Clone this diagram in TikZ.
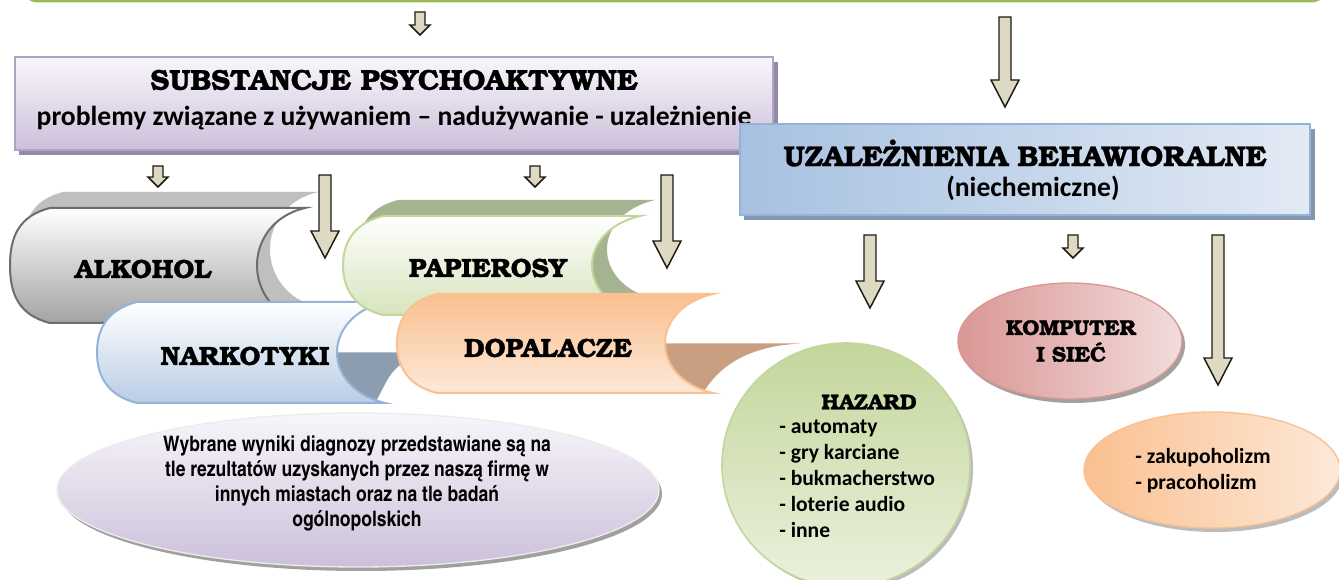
\documentclass[tikz,border=0pt]{standalone}
\usepackage{fontspec}
\setmainfont{Carlito}
\newfontfamily\bookf{texgyrebonum-bold}[Extension=.otf, FakeBold=1]
\newfontfamily\narrowf{texgyreheroscn-bold}[Extension=.otf]
\definecolor{arrowfill}{HTML}{DDD9C3}
\definecolor{arrowline}{HTML}{1D1B10}
\definecolor{topgreen}{HTML}{9BBB59}
\definecolor{topgreenfill}{HTML}{EBF1DE}
\definecolor{purpleTop}{HTML}{F8F6FB}
\definecolor{purpleBot}{HTML}{CCC0DA}
\definecolor{purpleBorder}{HTML}{B3A2C7}
\definecolor{purpleShadow}{HTML}{948AA6}
\definecolor{blueA}{HTML}{A7C1E1}
\definecolor{blueB}{HTML}{E2EAF4}
\definecolor{blueBorder}{HTML}{95B3D7}
\definecolor{blueShadow}{HTML}{8497B0}
\definecolor{alkBot}{HTML}{A3A3A3}
\definecolor{alkLine}{HTML}{6D6D6D}
\definecolor{alkBack}{HTML}{BFBFBF}
\definecolor{papBot}{HTML}{D7E4BD}
\definecolor{papLine}{HTML}{C3D69B}
\definecolor{papBack}{HTML}{A4B491}
\definecolor{narBot}{HTML}{B9CDE5}
\definecolor{narLine}{HTML}{95B3D7}
\definecolor{narBack}{HTML}{8D9DB0}
\definecolor{dopTop}{HTML}{F9C08F}
\definecolor{dopBot}{HTML}{FDE9D9}
\definecolor{dopLine}{HTML}{FAC090}
\definecolor{dopBack}{HTML}{C8A081}
\definecolor{hazA}{HTML}{C3D69B}
\definecolor{hazB}{HTML}{EBF1DE}
\definecolor{komA}{HTML}{D99694}
\definecolor{komB}{HTML}{F2DCDB}
\definecolor{komLine}{HTML}{D99694}
\definecolor{orA}{HTML}{FAC090}
\definecolor{orB}{HTML}{FDE9D9}
\definecolor{ellShadow}{HTML}{A0A0A0}
\newcommand\scrollshape[5]{%
  \path[#1] (#3,#4) -- ({#2+40},#4) .. controls ({#2+8},{#4+8}) and (#2,{#4+30}) .. (#2,{(#4+#5)/2})
    .. controls (#2,{#5-30}) and ({#2+8},{#5-8}) .. ({#2+40},#5) -- (#3,#5)
    .. controls ({#3-64},{#5-15}) and ({#3-64},{#4+15}) .. (#3,#4) -- cycle;}
\newcommand\wedgeshape[5]{%
  \path[#1] ({#2-60},{(#3+#4)/2}) -- ({#2+#5},{(#3+#4)/2})
    .. controls ({#2+#5-55},{(#3+#4)/2+3}) and ({#2+5},{#4-25}) .. ({#2-10},#4) -- ({#2-60},#4) -- cycle;}
\newcommand\blockarrow[6]{%
  \draw[arr] ({#1-#4},#2) -- ({#1+#4},#2) -- ({#1+#4},{#3-#6}) -- ({#1+#5},{#3-#6}) -- (#1,#3)
    -- ({#1-#5},{#3-#6}) -- ({#1-#4},{#3-#6}) -- cycle;}
\begin{document}
\begin{tikzpicture}[x=0.75pt,y=-0.75pt,
  arr/.style={draw=arrowline, fill=arrowfill, line width=1.1pt, line join=miter},
  headtxt/.style={font=\bookf\fontsize{21.5}{24}\selectfont, inner sep=0pt},
  scrolltxt/.style={font=\bookf\fontsize{19.7}{22}\selectfont, inner sep=0pt},
  smallhead/.style={font=\bookf\fontsize{16}{20}\selectfont, inner sep=0pt, align=center},
  subtxt/.style={font=\bfseries\fontsize{20.7}{24}\selectfont, inner sep=0pt},
  listtxt/.style={font=\bfseries\fontsize{16.2}{19.5}\selectfont, inner sep=0pt, align=left},
  narrowtxt/.style={font=\narrowf\fontsize{16}{18.75}\selectfont, inner sep=0pt, align=center}]
\clip (0,0) rectangle (1339,580);
\fill[white] (0,0) rectangle (1339,580);
% top green box (only its bottom edge is visible)
\draw[topgreen, fill=topgreenfill, line width=2.25pt, rounded corners=12pt] (22,-40) rectangle (1327,1);
% purple box
\fill[purpleShadow] (19,62) rectangle (778,155);
\shade[top color=purpleTop, bottom color=purpleBot, draw=purpleBorder, line width=1.2pt] (15,57) rectangle (773,150);
\node[headtxt] (subst) at (394,80) {SUBSTANCJE PSYCHOAKTYWNE};
\node[subtxt] (substsub) at (394,118) {problemy związane z używaniem – nadużywanie - uzależnienie};
% blue box
\fill[blueShadow] (744,129) rectangle (1315,220);
\shade[left color=blueA, right color=blueB, draw=blueBorder, line width=1.2pt] (740,124) rectangle (1310,215);
\node[headtxt] (behaw) at (1025,153) {UZALEŻNIENIA BEHAWIORALNE};
\node[subtxt] (niechem) at (1033,188) {(niechemiczne)};
% scrolls
\scrollshape{fill=alkBack, shift={(13,-16)}}{10}{305}{208}{323}
\scrollshape{top color=white, bottom color=alkBot, draw=alkLine, line width=1.5pt, shade}{10}{305}{208}{323}
\node[scrolltxt] (alk) at (143,269) {ALKOHOL};
\wedgeshape{fill=narBack}{385}{302}{403}{60}
\scrollshape{top color=white, bottom color=narBot, draw=narLine, line width=1.5pt, shade}{97}{385}{302}{403}
\node[scrolltxt] (nar) at (245,356) {NARKOTYKI};
\scrollshape{fill=papBack, shift={(15,-16)}}{343}{640}{216}{315}
\scrollshape{top color=white, bottom color=papBot, draw=papLine, line width=1.5pt, shade}{343}{640}{216}{315}
\node[scrolltxt] (pap) at (488,268) {PAPIEROSY};
\wedgeshape{fill=dopBack}{713}{294}{393}{87}
\scrollshape{top color=dopTop, bottom color=dopBot, draw=dopLine, line width=1.5pt, shade}{397}{713}{294}{393}
\node[scrolltxt] (dop) at (548,348) {DOPALACZE};
% bottom-left ellipse
\fill[ellShadow] (361,494) ellipse [x radius=225.75pt, y radius=57.75pt];
\shade[top color=purpleTop, bottom color=purpleBot, draw=white!85!gray, line width=1pt] (358,490) ellipse [x radius=225.75pt, y radius=57.75pt];
\node[narrowtxt] (diag) at (357,483) {Wybrane wyniki diagnozy przedstawiane są na\\tle rezultatów uzyskanych przez naszą firmę w\\innych miastach oraz na tle badań\\ogólnopolskich};
% hazard circle
\fill[ellShadow!70] (849,468) ellipse [x radius=93pt, y radius=91.5pt];
\shade[top color=hazA, bottom color=hazB, draw=hazA, line width=1.2pt] (846,465) ellipse [x radius=93pt, y radius=91.5pt];
\node[smallhead] (hazard) at (869,402) {HAZARD};
\node[listtxt, anchor=west] (hazlist) at (779,479) {- automaty\\- gry karciane\\- bukmacherstwo\\- loterie audio\\- inne};
% komputer ellipse
\fill[ellShadow] (1073,345) ellipse [x radius=84pt, y radius=43.5pt];
\shade[left color=komA, right color=komB, draw=komLine, line width=1pt] (1070,341) ellipse [x radius=84pt, y radius=43.5pt];
\node[smallhead] (komp) at (1071,341) {KOMPUTER\\I SIEĆ};
% orange ellipse
\fill[ellShadow!70] (1215,474) ellipse [x radius=96pt, y radius=43.5pt];
\shade[left color=orA, right color=orB, draw=orA, line width=1pt] (1212,470) ellipse [x radius=96pt, y radius=43.5pt];
\node[listtxt, anchor=west] (zakup) at (1135,471) {- zakupoholizm\\- pracoholizm};
% block arrows
\blockarrow{420}{12}{35}{5}{10}{10}
\blockarrow{1005}{17}{107}{6}{14}{27}
\blockarrow{158}{166}{187}{5}{10}{10}
\blockarrow{325}{175}{258}{6}{14}{27}
\blockarrow{535}{166}{187}{5}{10}{10}
\blockarrow{667}{175}{268}{6}{14}{27}
\blockarrow{870}{235}{308}{6}{14}{27}
\blockarrow{1073}{235}{258}{5}{10}{10}
\blockarrow{1218}{235}{385}{6}{14}{27}
\end{tikzpicture}
\end{document}
